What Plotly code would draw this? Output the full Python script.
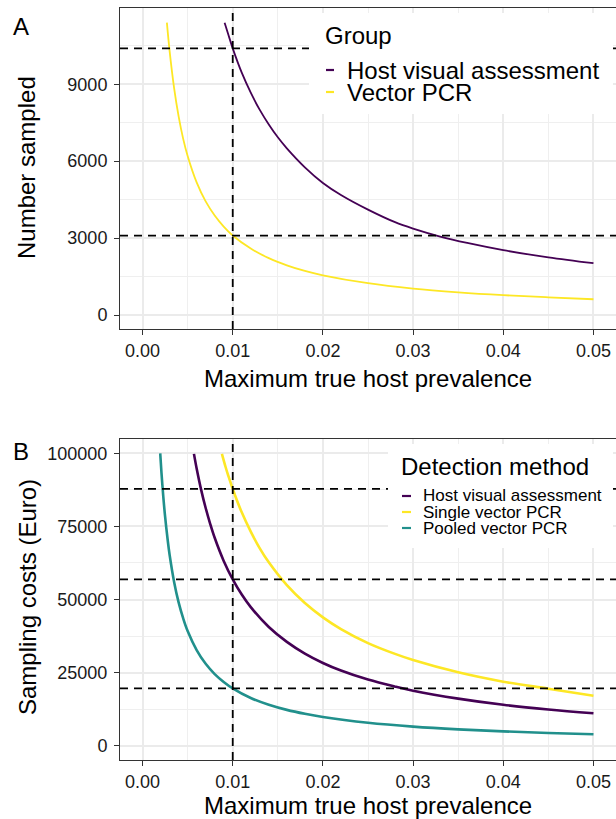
import plotly.graph_objects as go

# ---------------- data ----------------
# Panel A: number sampled vs maximum true host prevalence
prev_host_a = [0.0091, 0.0095, 0.010, 0.011, 0.012, 0.013, 0.014, 0.015, 0.016, 0.018,
               0.020, 0.022, 0.025, 0.028, 0.030, 0.033, 0.036, 0.040, 0.045, 0.050]
n_host_a = [11400, 10950, 10400, 9450, 8670, 8000, 7430, 6930, 6500, 5760,
            5150, 4680, 4110, 3620, 3370, 3060, 2810, 2530, 2250, 2020]

prev_vec_a = [0.0027, 0.0030, 0.0035, 0.004, 0.0045, 0.005, 0.006, 0.007, 0.008, 0.009,
              0.010, 0.012, 0.014, 0.016, 0.018, 0.020, 0.025, 0.030, 0.035, 0.040, 0.045, 0.050]
n_vec_a = [11400, 10300, 8850, 7750, 6880, 6200, 5170, 4430, 3880, 3450,
           3100, 2590, 2220, 1940, 1720, 1550, 1240, 1030, 885, 775, 690, 615]

hlines_a = [10400, 3100]

# Panel B: sampling costs (Euro)
prev_host_b = [0.0057, 0.006, 0.0065, 0.007, 0.0075, 0.008, 0.009, 0.010, 0.011, 0.012, 0.014,
               0.016, 0.018, 0.020, 0.022, 0.025, 0.028, 0.030, 0.035, 0.040, 0.045, 0.050]
cost_host_b = [99800, 94800, 87500, 81300, 75900, 71100, 63200, 56900, 51700, 47400, 40600,
               35500, 31500, 28300, 25700, 22600, 20200, 18800, 16100, 14000, 12400, 11100]

prev_single_b = [0.0088, 0.0092, 0.0095, 0.010, 0.011, 0.012, 0.013, 0.014, 0.016, 0.018, 0.020,
                 0.022, 0.025, 0.028, 0.030, 0.035, 0.040, 0.045, 0.050]
cost_single_b = [99800, 95400, 92400, 87800, 79800, 73200, 67500, 62700, 54900, 48800, 43900,
                 39900, 35100, 31400, 29300, 25100, 21900, 19500, 17100]

prev_pool_b = [0.00196, 0.0021, 0.0023, 0.0025, 0.0028, 0.003, 0.0035, 0.004, 0.0045, 0.005,
               0.006, 0.007, 0.008, 0.009, 0.010, 0.012, 0.014, 0.016, 0.018, 0.020,
               0.025, 0.030, 0.035, 0.040, 0.045, 0.050]
cost_pool_b = [100000, 93300, 85200, 78400, 70000, 65300, 56000, 49000, 43600, 39200,
               32700, 28000, 24500, 21800, 19600, 16300, 14000, 12250, 10900, 9800,
               7840, 6530, 5600, 4900, 4360, 3900]

hlines_b = [87800, 56900, 19600]
vline_x = 0.01

x_ticks = [0.0, 0.01, 0.02, 0.03, 0.04, 0.05]
x_ticklabels = ["0.00", "0.01", "0.02", "0.03", "0.04", "0.05"]
x_minor = [0.005, 0.015, 0.025, 0.035, 0.045]
ya_ticks = [0, 3000, 6000, 9000]
ya_minor = [1500, 4500, 7500, 10500]
yb_ticks = [0, 25000, 50000, 75000, 100000]
yb_minor = [12500, 37500, 62500, 87500]

legend_a_title = "Group"
legend_a_labels = ["Host visual assessment", "Vector PCR"]
legend_b_title = "Detection method"
legend_b_labels = ["Host visual assessment", "Single vector PCR", "Pooled vector PCR"]

# ---------------- styling ----------------
W, H = 616, 819
PURPLE, YELLOW, TEAL = "#440154", "#FDE725", "#21908C"
FONT = "Liberation Sans, Arial, Helvetica, sans-serif"
TXT = "#1a1a1a"

def px_x(v):
    return v / W

def px_y(v):
    return 1 - v / H

fig = go.Figure()

fig.add_trace(go.Scatter(x=prev_host_a, y=n_host_a, mode="lines", line=dict(color=PURPLE, width=1.8, shape="spline"),
                         xaxis="x", yaxis="y", showlegend=False, name=legend_a_labels[0]))
fig.add_trace(go.Scatter(x=prev_vec_a, y=n_vec_a, mode="lines", line=dict(color=YELLOW, width=1.8, shape="spline"),
                         xaxis="x", yaxis="y", showlegend=False, name=legend_a_labels[1]))
fig.add_trace(go.Scatter(x=prev_host_b, y=cost_host_b, mode="lines", line=dict(color=PURPLE, width=2.6, shape="spline"),
                         xaxis="x2", yaxis="y2", showlegend=False, name=legend_b_labels[0]))
fig.add_trace(go.Scatter(x=prev_single_b, y=cost_single_b, mode="lines", line=dict(color=YELLOW, width=2.6, shape="spline"),
                         xaxis="x2", yaxis="y2", showlegend=False, name=legend_b_labels[1]))
fig.add_trace(go.Scatter(x=prev_pool_b, y=cost_pool_b, mode="lines", line=dict(color=TEAL, width=2.6, shape="spline"),
                         xaxis="x2", yaxis="y2", showlegend=False, name=legend_b_labels[2]))

common_x = dict(
    range=[-0.0025, 0.0525], tickvals=x_ticks, ticktext=x_ticklabels,
    showgrid=True, gridcolor="#EBEBEB", gridwidth=2,
    minor=dict(tickvals=x_minor, showgrid=True, gridcolor="#EFEFEF", gridwidth=1, ticks=""),
    showline=True, linecolor="#333333", linewidth=1, mirror=True,
    ticks="outside", ticklen=5, tickwidth=1.3, tickcolor="#333333",
    zeroline=False, tickfont=dict(size=18, color=TXT, family=FONT),
    domain=[120 / W, 1.0], fixedrange=True, ticklabelstandoff=0,
)
common_y = dict(
    showgrid=True, gridcolor="#EBEBEB", gridwidth=2,
    showline=True, linecolor="#333333", linewidth=1, mirror=False,
    ticks="outside", ticklen=5, tickwidth=1.3, tickcolor="#333333",
    zeroline=False, tickfont=dict(size=18, color=TXT, family=FONT), fixedrange=True,
    ticklabelstandoff=3,
)

fig.update_layout(
    width=W, height=H, margin=dict(l=0, r=0, t=0, b=0),
    paper_bgcolor="white", plot_bgcolor="white",
    font=dict(family=FONT, color=TXT),
    showlegend=False,
    xaxis=dict(common_x, anchor="y"),
    yaxis=dict(common_y, anchor="x", domain=[px_y(329), px_y(8)], range=[-545, 11973],
               tickvals=ya_ticks, ticktext=[str(v) for v in ya_ticks],
               minor=dict(tickvals=ya_minor, showgrid=True, gridcolor="#EFEFEF", gridwidth=1, ticks="")),
    xaxis2=dict(common_x, anchor="y2"),
    yaxis2=dict(common_y, anchor="x2", domain=[px_y(760), px_y(439)], range=[-4890, 104890],
                tickvals=yb_ticks, ticktext=[str(v) for v in yb_ticks],
                minor=dict(tickvals=yb_minor, showgrid=True, gridcolor="#EFEFEF", gridwidth=1, ticks="")),
)

dash_line = dict(color="black", width=1.8, dash="8px,6px")
for yv in hlines_a:
    fig.add_shape(type="line", xref="x domain", yref="y", x0=0, x1=1, y0=yv, y1=yv, line=dash_line, layer="above")
for yv in hlines_b:
    fig.add_shape(type="line", xref="x2 domain", yref="y2", x0=0, x1=1, y0=yv, y1=yv, line=dash_line, layer="above")
fig.add_shape(type="line", xref="x", yref="y domain", x0=vline_x, x1=vline_x, y0=0, y1=1, line=dash_line, layer="above")
fig.add_shape(type="line", xref="x2", yref="y2 domain", x0=vline_x, x1=vline_x, y0=0, y1=1, line=dash_line, layer="above")

# legend boxes (white background, drawn above grid / reference lines)
fig.add_shape(type="rect", xref="paper", yref="paper", x0=px_x(309), x1=px_x(613), y0=px_y(114), y1=px_y(13),
              fillcolor="white", line=dict(width=0), layer="above")
fig.add_shape(type="rect", xref="paper", yref="paper", x0=px_x(388), x1=px_x(613), y0=px_y(548), y1=px_y(444),
              fillcolor="white", line=dict(width=0), layer="above")

ann = []
def text(x, y, s, size, xanchor="left", angle=0):
    ann.append(dict(x=px_x(x), y=px_y(y), xref="paper", yref="paper", text=s, showarrow=False,
                    xanchor=xanchor, yanchor="middle", textangle=angle, borderpad=0,
                    font=dict(size=size, family=FONT, color="black")))

# legend A
text(324, 36, legend_a_title, 24)
for i, (lab, col) in enumerate(zip(legend_a_labels, [PURPLE, YELLOW])):
    yy = 70 + i * 22
    text(346, yy, lab, 24)
    fig.add_shape(type="line", xref="paper", yref="paper", x0=px_x(326), x1=px_x(334), y0=px_y(yy), y1=px_y(yy),
                  line=dict(color=col, width=2.2), layer="above")

# legend B
text(400, 466, legend_b_title, 24)
for i, (lab, col) in enumerate(zip(legend_b_labels, [PURPLE, YELLOW, TEAL])):
    yy = 496 + i * 16
    text(422, yy, lab, 17)
    fig.add_shape(type="line", xref="paper", yref="paper", x0=px_x(402), x1=px_x(411), y0=px_y(yy), y1=px_y(yy),
                  line=dict(color=col, width=2.2), layer="above")

# panel tags and axis titles
text(12, 27, "A", 24)
text(12, 451, "B", 24)
text(27, 168, "Number sampled", 24, xanchor="center", angle=-90)
text(27, 597, "Sampling costs (Euro)", 24, xanchor="center", angle=-90)
text(368, 378, "Maximum true host prevalence", 24, xanchor="center")
text(368, 805, "Maximum true host prevalence", 24, xanchor="center")

fig.update_layout(annotations=ann)

# remove the browser's default 8px page margin so the figure sits at the window's top-left corner
fig.write_html(
    "out.html",
    config={"displayModeBar": False},
    post_script="document.body.style.margin='0';document.body.style.overflow='hidden';",
)
